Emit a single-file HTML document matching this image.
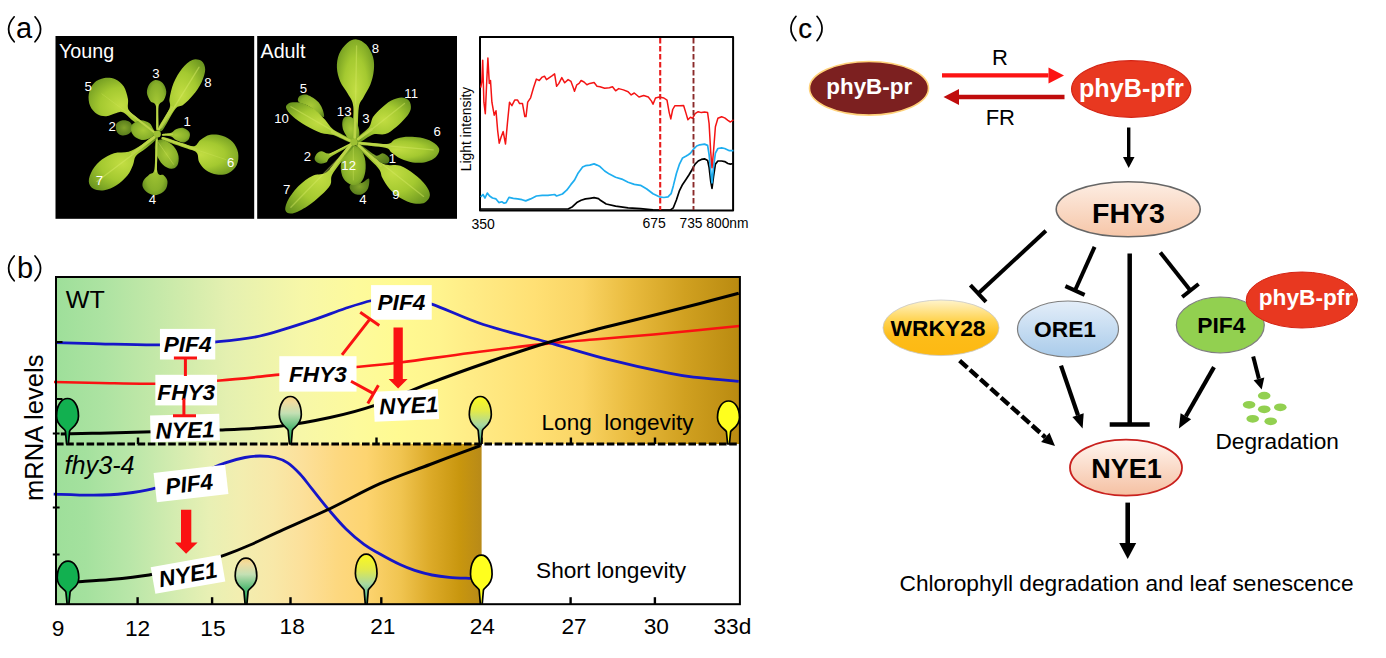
<!DOCTYPE html>
<html><head><meta charset="utf-8"><title>Figure</title>
<style>
html,body{margin:0;padding:0;background:#fff;}
body{width:1386px;height:658px;overflow:hidden;font-family:"Liberation Sans",sans-serif;}
svg{display:block;}
svg text{font-family:"Liberation Sans",sans-serif;}
</style></head><body>
<svg width="1386" height="658" viewBox="0 0 1386 658">
<rect width="1386" height="658" fill="#fff"/>
<g font-size="29" fill="#000">
<text x="16" y="38">a</text>
<text x="17" y="277.6">b</text>
<text x="798.3" y="37.9" font-size="27.5" stroke="#000" stroke-width="0.25">c</text>
</g>
<g fill="none" stroke="#000" stroke-width="1.7" stroke-linecap="round">
<path d="M14.2,16.8 Q3,29.3 14.2,41.8"/><path d="M35,16.8 Q46.2,29.3 35,41.8"/>
<path d="M14.2,256 Q3,268.4 14.2,280.8"/><path d="M35,256 Q46.2,268.4 35,280.8"/>
<path d="M796,16.3 Q785.8,28.5 796,40.7"/><path d="M817,16.3 Q827.2,28.5 817,40.7"/>
</g>
<defs>
<radialGradient id="lg" cx="50%" cy="50%" r="65%"><stop offset="0" stop-color="#c2dd42"/><stop offset="0.5" stop-color="#a4c930"/><stop offset="1" stop-color="#67921e"/></radialGradient>
<radialGradient id="lg2" cx="50%" cy="50%" r="65%"><stop offset="0" stop-color="#a8ca36"/><stop offset="0.65" stop-color="#88b02a"/><stop offset="1" stop-color="#5a821c"/></radialGradient>
<radialGradient id="lg3" cx="50%" cy="50%" r="65%"><stop offset="0" stop-color="#82a42a"/><stop offset="1" stop-color="#4e7318"/></radialGradient>
</defs>
<rect x="55.5" y="36" width="198.7" height="182.8" fill="#000"/>
<g><path d="M116.5,123.6 C117.5,121.8 120.3,120.5 122.6,120.2 C124.8,119.9 128.2,120.6 129.8,121.9 C131.5,123.2 132.7,125.9 132.5,127.9 C132.3,130.0 130.5,132.8 128.6,134.0 C126.8,135.2 123.4,135.8 121.3,135.2 C119.3,134.7 117.3,132.8 116.5,130.9 C115.7,128.9 115.5,125.4 116.5,123.6Z" fill="url(#lg3)"/>
<path d="M152.5,129.9 C150.4,127.5 142.3,122.1 138.4,118.7 C134.4,115.3 130.4,113.0 128.6,109.7 C126.9,106.4 128.7,102.6 127.9,98.8 C127.1,94.9 125.9,89.9 123.8,86.6 C121.7,83.4 118.5,80.7 115.3,79.3 C112.0,77.9 107.8,77.5 104.3,78.1 C100.8,78.7 96.7,80.3 94.1,83.0 C91.5,85.6 89.4,90.1 88.8,93.9 C88.1,97.8 88.8,102.7 90.2,106.1 C91.6,109.4 94.3,112.4 97.0,114.1 C99.7,115.8 103.0,116.5 106.3,116.3 C109.5,116.1 113.6,113.5 116.5,112.9 C119.3,112.2 120.1,110.8 123.3,112.4 C126.4,114.0 130.8,119.2 135.4,122.6 C140.1,126.0 148.2,131.6 151.0,132.8 C153.8,134.0 154.6,132.2 152.5,129.9Z" fill="url(#lg)"/><line x1="152.9" y1="131.6" x2="101.9" y2="93.9" stroke="#d6ea64" stroke-width="0.9" stroke-linecap="round" opacity="0.3"/>
<path d="M158.5,127.9 C158.9,124.4 157.6,111.2 158.5,106.6 C159.4,101.9 162.6,102.5 163.9,100.0 C165.2,97.5 166.5,94.3 166.3,91.5 C166.1,88.6 164.5,84.9 162.7,83.0 C160.9,81.1 157.6,79.8 155.4,80.0 C153.2,80.2 150.7,82.1 149.3,84.2 C147.9,86.3 146.7,89.9 146.9,92.7 C147.1,95.5 149.0,99.0 150.5,101.2 C152.0,103.4 154.9,101.6 155.9,106.1 C156.8,110.5 155.7,124.3 156.1,127.9 C156.6,131.6 158.1,131.5 158.5,127.9Z" fill="url(#lg2)"/>
<path d="M158.3,127.9 C159.4,124.4 167.6,113.4 169.5,108.5 C171.3,103.6 168.8,103.0 169.5,98.8 C170.2,94.5 171.5,88.0 173.6,83.0 C175.7,77.9 179.0,72.2 182.1,68.4 C185.2,64.5 189.1,61.1 192.3,59.9 C195.6,58.6 199.4,59.5 201.6,61.1 C203.7,62.7 205.2,66.1 205.2,69.6 C205.2,73.1 203.6,78.0 201.6,82.2 C199.6,86.5 196.1,91.4 193.1,95.1 C190.0,98.9 186.3,102.5 183.3,104.8 C180.4,107.2 178.8,104.8 175.3,109.0 C171.9,113.2 165.5,126.7 162.7,129.9 C159.8,133.1 157.2,131.5 158.3,127.9Z" fill="url(#lg)"/><line x1="161.5" y1="127.9" x2="199.1" y2="67.2" stroke="#d6ea64" stroke-width="1.3" stroke-linecap="round" opacity="0.5"/>
<path d="M162.7,134.0 C164.1,133.5 169.0,133.6 171.2,132.8 C173.4,132.0 174.0,130.0 176.0,129.2 C178.1,128.4 181.1,127.4 183.3,127.9 C185.6,128.5 188.5,130.5 189.4,132.3 C190.4,134.1 189.9,137.2 188.9,138.9 C187.9,140.6 185.5,142.3 183.3,142.5 C181.2,142.7 178.1,141.1 176.0,140.1 C174.0,139.1 173.4,137.2 171.2,136.5 C169.0,135.7 164.1,136.1 162.7,135.7 C161.3,135.3 161.3,134.5 162.7,134.0Z" fill="url(#lg2)"/>
<path d="M163.9,137.2 C166.9,137.6 177.1,141.5 182.1,143.0 C187.2,144.5 191.2,146.7 194.3,146.2 C197.3,145.7 197.7,142.0 200.4,140.1 C203.0,138.2 206.4,135.5 210.1,134.8 C213.7,134.0 218.5,134.5 222.2,135.7 C226.0,136.9 230.1,139.2 232.7,142.1 C235.3,144.9 237.4,148.9 238.1,152.8 C238.7,156.6 238.5,161.5 236.8,164.9 C235.2,168.3 231.7,171.6 228.3,173.2 C225.0,174.8 220.6,175.1 216.9,174.6 C213.2,174.1 208.9,172.4 206.0,170.3 C203.0,168.2 200.7,164.9 199.1,162.0 C197.6,159.1 198.7,155.0 196.7,152.8 C194.7,150.5 192.5,150.6 187.0,148.6 C181.5,146.6 167.7,142.5 163.9,140.6 C160.0,138.7 160.9,136.8 163.9,137.2Z" fill="url(#lg)"/><line x1="163.9" y1="138.9" x2="225.9" y2="159.6" stroke="#d6ea64" stroke-width="0.9" stroke-linecap="round" opacity="0.3"/>
<path d="M132.3,124.3 C133.9,122.5 138.0,120.4 140.8,120.2 C143.6,120.0 147.2,121.6 149.3,123.1 C151.4,124.6 152.3,127.5 153.4,129.2 C154.5,130.9 156.1,132.0 155.9,133.3 C155.6,134.6 153.8,136.1 151.7,137.2 C149.7,138.3 146.4,140.1 143.7,140.1 C141.0,140.1 137.5,138.7 135.4,137.2 C133.3,135.6 131.6,133.0 131.1,130.9 C130.5,128.7 130.7,126.1 132.3,124.3Z" fill="url(#lg2)"/>
<path d="M152.9,136.5 C150.4,137.4 144.8,142.9 140.8,145.5 C136.7,148.0 133.1,150.5 128.6,151.8 C124.2,153.1 118.5,151.9 114.0,153.2 C109.6,154.5 105.5,156.8 101.9,159.6 C98.3,162.3 94.8,166.1 92.6,169.8 C90.5,173.4 88.6,178.3 88.8,181.4 C88.9,184.6 90.8,187.3 93.4,188.7 C96.0,190.2 100.5,190.8 104.3,190.2 C108.2,189.6 112.6,187.8 116.5,185.3 C120.3,182.9 124.7,179.0 127.4,175.6 C130.2,172.2 131.6,168.2 133.0,164.9 C134.4,161.6 133.8,158.6 135.9,155.9 C138.0,153.2 142.3,151.3 145.7,148.6 C149.0,145.9 154.7,141.6 155.9,139.6 C157.1,137.6 155.5,135.5 152.9,136.5Z" fill="url(#lg)"/><line x1="154.2" y1="138.2" x2="97.0" y2="181.4" stroke="#d6ea64" stroke-width="1.3" stroke-linecap="round" opacity="0.5"/>
<path d="M155.6,140.1 C155.0,145.0 155.5,163.5 154.4,169.3 C153.4,175.0 151.1,172.8 149.3,174.6 C147.5,176.5 144.8,178.2 143.7,180.2 C142.6,182.3 142.0,184.6 142.7,186.8 C143.5,188.9 145.8,191.7 148.1,193.1 C150.4,194.5 153.8,195.6 156.6,195.1 C159.4,194.5 163.3,192.2 165.1,190.0 C166.9,187.7 167.7,183.9 167.5,181.4 C167.3,179.0 165.6,177.1 163.9,175.4 C162.2,173.7 158.3,177.1 157.3,171.2 C156.4,165.4 158.3,145.3 158.1,140.1 C157.8,134.9 156.2,135.2 155.6,140.1Z" fill="url(#lg2)"/>
<path d="M157.8,140.6 C159.3,139.6 161.3,139.2 163.9,140.1 C166.5,141.0 171.2,143.6 173.6,146.2 C176.0,148.8 177.9,152.7 178.5,155.9 C179.1,159.2 178.5,163.5 177.3,165.6 C176.0,167.8 173.6,169.0 171.2,168.8 C168.8,168.6 165.1,166.8 162.7,164.4 C160.2,162.1 157.9,157.7 156.6,154.7 C155.3,151.7 154.7,148.5 154.9,146.2 C155.1,143.8 156.3,141.6 157.8,140.6Z" fill="url(#lg2)"/><line x1="158.3" y1="142.5" x2="173.6" y2="164.4" stroke="#d6ea64" stroke-width="0.9" stroke-linecap="round" opacity="0.4"/></g>
<line x1="154.2" y1="132.3" x2="127.4" y2="111.4" stroke="#bcd548" stroke-width="2.0" stroke-linecap="round"/>
<line x1="157.3" y1="129.2" x2="157.3" y2="104.8" stroke="#bcd548" stroke-width="1.8" stroke-linecap="round"/>
<line x1="159.0" y1="129.2" x2="171.9" y2="107.3" stroke="#bcd548" stroke-width="2.3" stroke-linecap="round"/>
<line x1="162.7" y1="138.2" x2="196.2" y2="149.3" stroke="#bcd548" stroke-width="2.4" stroke-linecap="round"/>
<line x1="154.2" y1="137.2" x2="132.3" y2="153.5" stroke="#bcd548" stroke-width="2.8" stroke-linecap="round"/>
<line x1="156.8" y1="140.1" x2="155.9" y2="171.7" stroke="#bcd548" stroke-width="1.8" stroke-linecap="round"/>
<line x1="162.7" y1="134.8" x2="172.4" y2="134.3" stroke="#bcd548" stroke-width="1.4" stroke-linecap="round"/>
<circle cx="157.3" cy="134.0" r="3.6" fill="#9dc033"/>
<g fill="#fff" font-size="13.2" text-anchor="middle">
<text x="155.9" y="77.8">3</text>
<text x="208.0" y="87.1">8</text>
<text x="88.2" y="90.9">5</text>
<text x="187.2" y="126.0">1</text>
<text x="112.2" y="131.1">2</text>
<text x="230.6" y="167.2">6</text>
<text x="99.4" y="185.1">7</text>
<text x="152.4" y="203.9">4</text>
</g>
<text x="59" y="58" fill="#fff" font-size="19.7">Young</text>
<rect x="257.2" y="36" width="199.8" height="182.8" fill="#000"/>
<g><path d="M299.1,96.6 C300.4,95.3 303.0,94.0 306.0,94.6 C309.0,95.3 314.2,98.3 316.9,100.7 C319.7,103.0 321.3,106.1 322.4,108.9 C323.5,111.6 324.9,116.7 323.8,117.1 C322.6,117.4 318.3,113.0 315.6,111.0 C312.8,109.1 310.2,107.1 307.4,105.6 C304.5,104.1 300.0,103.5 298.6,102.0 C297.2,100.5 297.9,97.8 299.1,96.6Z" fill="url(#lg2)"/>
<path d="M352.5,138.4 C351.9,133.1 354.1,114.1 353.3,106.7 C352.5,99.2 350.0,98.0 347.8,93.8 C345.7,89.6 342.0,85.8 340.2,81.5 C338.4,77.2 337.1,72.4 336.9,67.8 C336.7,63.3 337.4,58.3 339.1,54.1 C340.8,50.0 344.1,45.7 347.0,43.2 C349.9,40.7 353.4,39.1 356.6,39.4 C359.8,39.6 363.4,41.7 366.2,44.6 C368.9,47.5 371.7,52.6 373.0,56.9 C374.3,61.2 374.3,65.9 373.8,70.6 C373.4,75.2 372.0,80.3 370.3,84.8 C368.5,89.3 365.3,93.6 363.4,97.4 C361.5,101.2 359.8,100.7 358.8,107.5 C357.7,114.3 358.2,133.3 357.1,138.4 C356.1,143.6 353.1,143.7 352.5,138.4Z" fill="url(#lg)"/><line x1="355.0" y1="136.2" x2="356.6" y2="45.9" stroke="#d6ea64" stroke-width="1.3" stroke-linecap="round" opacity="0.45"/>
<path d="M356.6,138.4 C358.1,135.9 366.2,131.0 368.9,127.5 C371.6,123.9 371.0,120.3 373.0,117.1 C375.1,113.9 378.3,111.0 381.2,108.3 C384.2,105.6 387.4,102.5 390.8,100.7 C394.2,98.8 398.7,97.4 401.7,97.4 C404.8,97.4 407.6,98.7 409.1,100.7 C410.6,102.6 411.3,106.0 410.8,108.9 C410.2,111.7 408.3,114.6 405.8,117.6 C403.4,120.6 399.7,124.2 396.3,126.9 C392.8,129.7 389.2,132.8 385.3,134.0 C381.4,135.3 377.2,133.2 373.0,134.6 C368.8,135.9 362.6,141.6 359.9,142.2 C357.1,142.9 355.1,140.9 356.6,138.4Z" fill="url(#lg)"/><line x1="358.0" y1="140.3" x2="404.5" y2="103.4" stroke="#d6ea64" stroke-width="1.3" stroke-linecap="round" opacity="0.45"/>
<path d="M358.0,141.7 C362.8,141.6 380.5,144.2 386.7,143.9 C392.8,143.5 391.7,140.7 394.9,139.5 C398.1,138.3 401.6,137.1 405.8,136.8 C410.0,136.4 415.7,136.8 420.1,137.6 C424.4,138.4 428.9,139.8 432.1,141.7 C435.3,143.6 438.6,146.2 439.2,148.8 C439.8,151.4 438.1,154.8 435.9,157.0 C433.7,159.2 430.0,161.0 426.1,161.9 C422.2,162.8 417.0,163.0 412.7,162.5 C408.4,161.9 403.9,160.3 400.4,158.6 C396.9,157.0 394.1,154.5 391.6,152.6 C389.1,150.8 390.9,149.1 385.3,147.7 C379.7,146.3 362.5,145.4 358.0,144.4 C353.4,143.4 353.2,141.8 358.0,141.7Z" fill="url(#lg)"/><line x1="359.3" y1="143.3" x2="433.2" y2="149.9" stroke="#d6ea64" stroke-width="1.3" stroke-linecap="round" opacity="0.45"/>
<path d="M359.3,143.9 C363.2,146.3 375.1,157.9 379.8,161.4 C384.6,164.9 384.6,164.2 388.1,164.9 C391.5,165.7 396.0,164.3 400.4,165.8 C404.7,167.3 409.8,170.8 414.0,174.0 C418.2,177.2 422.9,181.4 425.5,184.9 C428.2,188.4 430.0,192.1 429.9,195.0 C429.8,197.9 427.6,201.0 425.0,202.4 C422.3,203.8 418.1,204.2 414.0,203.5 C409.9,202.8 404.5,200.5 400.4,198.0 C396.3,195.6 392.4,192.1 389.4,188.7 C386.4,185.4 384.2,181.3 382.3,177.8 C380.4,174.3 382.2,172.9 377.9,167.7 C373.6,162.5 359.7,150.6 356.6,146.6 C353.5,142.6 355.5,141.4 359.3,143.9Z" fill="url(#lg)"/><line x1="358.8" y1="145.5" x2="423.6" y2="196.4" stroke="#d6ea64" stroke-width="1.3" stroke-linecap="round" opacity="0.45"/>
<path d="M362.1,145.8 C364.5,147.2 372.3,154.1 375.7,155.4 C379.2,156.6 380.4,152.8 382.6,153.2 C384.8,153.5 388.0,155.9 388.9,157.6 C389.8,159.2 389.3,162.1 388.1,163.0 C386.8,163.9 383.3,163.8 381.2,163.0 C379.2,162.3 379.1,161.3 375.7,158.6 C372.4,156.0 363.3,149.3 361.0,147.2 C358.7,145.0 359.6,144.4 362.1,145.8Z" fill="url(#lg3)"/>
<path d="M351.7,184.1 C353.7,183.2 359.2,183.6 362.1,182.7 C364.9,181.8 367.9,177.7 368.9,178.6 C369.9,179.5 369.2,185.6 368.1,188.2 C366.9,190.8 364.3,193.3 362.1,194.2 C359.8,195.1 356.5,194.7 354.4,193.7 C352.4,192.7 350.2,189.8 349.8,188.2 C349.3,186.6 349.6,185.0 351.7,184.1Z" fill="url(#lg3)"/>
<path d="M349.8,145.8 C352.3,144.7 356.8,145.7 359.3,147.7 C361.8,149.8 363.8,154.1 364.8,158.1 C365.8,162.1 366.0,167.7 365.3,171.8 C364.7,175.9 363.0,180.5 360.7,182.7 C358.4,184.9 354.5,185.6 351.7,184.9 C348.8,184.2 345.3,181.7 343.5,178.6 C341.6,175.5 340.6,170.4 340.7,166.3 C340.9,162.2 342.8,157.4 344.3,154.0 C345.8,150.6 347.2,146.8 349.8,145.8Z" fill="url(#lg2)"/><line x1="353.3" y1="147.2" x2="353.3" y2="180.0" stroke="#d6ea64" stroke-width="1.0" stroke-linecap="round" opacity="0.35"/>
<path d="M350.3,143.3 C347.1,146.2 338.9,158.1 334.7,163.0 C330.5,168.0 328.9,171.0 325.1,173.1 C321.4,175.3 316.6,173.8 312.3,175.9 C307.9,177.9 303.2,181.5 299.1,185.5 C295.1,189.4 290.5,195.5 288.2,199.7 C285.9,203.9 284.7,208.3 285.5,210.6 C286.2,212.9 288.9,214.1 292.6,213.4 C296.2,212.6 302.6,209.3 307.4,206.2 C312.1,203.2 317.2,198.9 321.0,195.3 C324.9,191.7 328.5,188.3 330.3,184.9 C332.2,181.5 330.1,179.0 332.0,175.1 C333.8,171.1 337.9,166.2 341.6,161.4 C345.2,156.6 352.4,149.1 353.9,146.1 C355.3,143.1 353.5,140.5 350.3,143.3Z" fill="url(#lg)"/><line x1="351.7" y1="145.0" x2="290.9" y2="207.3" stroke="#d6ea64" stroke-width="1.3" stroke-linecap="round" opacity="0.45"/>
<path d="M351.7,142.8 C348.1,144.2 335.7,151.8 330.6,153.2 C325.5,154.6 323.5,150.9 321.0,151.3 C318.5,151.6 316.6,153.9 315.6,155.4 C314.6,156.9 314.3,158.9 315.0,160.3 C315.7,161.7 317.8,163.3 319.7,163.6 C321.6,163.9 324.6,163.3 326.5,162.2 C328.4,161.1 326.6,159.7 330.9,156.7 C335.2,153.8 348.8,146.7 352.2,144.4 C355.7,142.1 355.3,141.3 351.7,142.8Z" fill="url(#lg2)"/>
<path d="M351.1,139.0 C348.3,136.8 337.7,132.6 333.3,129.4 C329.0,126.2 328.1,123.0 325.1,119.8 C322.2,116.6 319.2,113.0 315.6,110.2 C311.9,107.5 307.4,104.7 303.3,103.4 C299.1,102.1 293.8,101.9 290.9,102.6 C288.1,103.3 285.8,105.3 286.0,107.5 C286.2,109.7 289.0,112.9 292.3,116.0 C295.6,119.0 301.2,123.0 306.0,125.8 C310.8,128.6 316.5,131.4 321.0,132.9 C325.6,134.5 328.5,133.5 333.3,135.1 C338.2,136.7 347.1,141.9 350.0,142.5 C353.0,143.1 353.9,141.1 351.1,139.0Z" fill="url(#lg)"/><line x1="350.0" y1="140.6" x2="290.9" y2="106.7" stroke="#d6ea64" stroke-width="1.3" stroke-linecap="round" opacity="0.45"/>
<path d="M343.5,118.4 C344.7,116.7 347.6,115.8 349.8,116.5 C351.9,117.2 355.0,119.9 356.6,122.5 C358.2,125.1 359.1,129.1 359.3,132.1 C359.6,135.1 359.2,138.8 358.0,140.3 C356.7,141.8 353.7,142.1 351.7,141.1 C349.6,140.2 347.2,137.3 345.7,134.8 C344.1,132.4 342.7,129.4 342.4,126.6 C342.0,123.9 342.2,120.1 343.5,118.4Z" fill="url(#lg2)"/></g>
<line x1="354.7" y1="137.6" x2="356.0" y2="105.6" stroke="#bcd548" stroke-width="2.6" stroke-linecap="round"/>
<line x1="358.0" y1="139.0" x2="371.6" y2="129.4" stroke="#bcd548" stroke-width="2.6" stroke-linecap="round"/>
<line x1="359.3" y1="143.1" x2="389.4" y2="145.8" stroke="#bcd548" stroke-width="2.4" stroke-linecap="round"/>
<line x1="358.8" y1="145.5" x2="380.7" y2="165.8" stroke="#bcd548" stroke-width="2.6" stroke-linecap="round"/>
<line x1="351.1" y1="144.4" x2="331.4" y2="169.6" stroke="#bcd548" stroke-width="3.0" stroke-linecap="round"/>
<line x1="351.7" y1="143.3" x2="329.8" y2="154.3" stroke="#bcd548" stroke-width="1.5" stroke-linecap="round"/>
<line x1="350.0" y1="140.6" x2="332.0" y2="132.1" stroke="#bcd548" stroke-width="2.6" stroke-linecap="round"/>
<circle cx="353.9" cy="142.2" r="3.6" fill="#9dc033"/>
<g fill="#fff" font-size="13.2" text-anchor="middle">
<text x="375.5" y="53.2">8</text>
<text x="411.2" y="97.6">11</text>
<text x="437.1" y="135.6">6</text>
<text x="303.3" y="93.1">5</text>
<text x="281.6" y="122.5">10</text>
<text x="344.2" y="115.5">13</text>
<text x="365.9" y="122.8">3</text>
<text x="307.5" y="161.1">2</text>
<text x="392.4" y="163.0">1</text>
<text x="348.7" y="170.4">12</text>
<text x="286.7" y="194.0">7</text>
<text x="363.0" y="203.6">4</text>
<text x="395.9" y="199.1">9</text>
</g>
<text x="260.5" y="58" fill="#fff" font-size="19.7">Adult</text>

<g id="spec" fill="none" stroke-linejoin="round">
<rect x="480" y="37" width="253.1" height="173.4" fill="#fff" stroke="#000" stroke-width="2"/>
<path d="M480.7,209.0 L568.1,209.0 L572.5,206.7 L576.8,202.6 L581.1,200.3 L585.5,198.9 L589.8,198.3 L594.1,197.7 L598.5,198.6 L600.0,200.0 L606.2,204.0 L615.6,206.2 L628.1,207.8 L640.5,208.7 L653.0,209.9 L670.2,210.2 L673.3,207.8 L676.4,200.0 L679.5,190.6 L682.6,184.4 L685.8,179.7 L688.9,175.0 L692.0,169.7 L695.1,164.1 L698.2,161.0 L701.4,159.4 L704.5,158.8 L707.6,160.4 L709.1,167.2 L710.7,181.2 L712.0,188.4 L713.5,176.6 L715.4,164.1 L717.9,161.0 L721.6,161.0 L724.7,161.6 L727.9,163.5 L730.4,164.1 L733.5,163.5" stroke="#000" stroke-width="1.7"/>
<path d="M480.7,196.8 L483.0,194.5 L485.0,198.0 L487.3,193.1 L489.6,196.0 L492.5,198.0 L496.0,198.9 L498.9,202.6 L501.8,201.8 L504.1,203.2 L506.1,202.6 L509.0,197.4 L513.3,198.3 L517.6,198.9 L522.0,199.7 L525.7,200.9 L530.6,198.9 L536.4,196.0 L542.2,195.4 L547.9,195.4 L554.6,194.5 L556.6,196.0 L562.4,194.0 L566.7,190.2 L571.0,184.4 L574.5,180.1 L578.2,172.9 L582.6,167.1 L585.5,165.7 L589.8,165.1 L594.1,163.9 L597.0,165.1 L600.0,166.6 L604.7,171.0 L609.4,174.1 L615.6,177.2 L621.8,179.1 L628.1,182.2 L634.3,184.4 L640.5,185.3 L646.8,189.0 L653.0,193.7 L659.3,196.8 L663.9,197.5 L668.0,196.8 L671.1,193.7 L673.3,185.9 L676.4,173.5 L679.5,164.1 L682.6,157.9 L685.8,156.3 L688.3,154.7 L690.4,153.2 L693.6,149.1 L696.7,146.0 L699.8,144.8 L704.5,144.1 L707.6,145.4 L709.1,154.7 L710.7,170.3 L712.0,182.8 L713.5,167.2 L715.4,153.2 L717.9,148.5 L721.6,147.9 L724.7,148.5 L729.4,150.7 L733.5,150.7" stroke="#1eaef0" stroke-width="1.7"/>
<path d="M480.7,87.7 L481.8,82.0 L482.7,60.3 L483.9,102.2 L485.3,113.7 L486.7,82.0 L487.9,58.0 L489.3,83.4 L490.5,80.5 L491.9,102.2 L494.2,115.2 L496.0,110.8 L497.7,131.0 L499.2,143.2 L501.2,136.8 L503.2,131.6 L505.5,144.0 L507.5,122.4 L509.5,102.2 L511.9,105.6 L514.7,100.1 L517.6,100.1 L519.6,103.6 L522.5,103.6 L524.8,116.6 L526.0,116.6 L527.7,102.2 L530.6,97.8 L533.5,87.7 L536.4,79.1 L539.3,80.5 L542.2,77.1 L544.5,76.2 L546.5,79.6 L549.4,77.6 L552.3,75.6 L554.6,73.9 L556.6,86.3 L558.9,83.4 L561.8,77.6 L564.7,82.8 L568.1,79.6 L571.0,81.4 L573.3,87.7 L574.5,91.2 L576.8,84.8 L579.1,83.4 L581.1,80.5 L584.0,82.0 L586.9,84.8 L589.8,83.4 L594.1,82.5 L597.0,86.3 L600.0,86.8 L604.7,88.3 L609.4,87.7 L612.5,86.8 L615.6,90.8 L618.7,88.6 L623.4,89.9 L628.1,91.7 L631.2,94.9 L634.3,93.0 L639.0,97.0 L643.7,95.5 L648.3,97.0 L651.5,101.1 L653.0,104.2 L655.5,98.0 L659.3,97.0 L663.9,98.0 L667.0,100.2 L669.2,112.6 L670.8,118.9 L672.7,109.5 L674.8,105.8 L679.5,105.8 L683.6,105.5 L685.8,112.6 L687.9,119.8 L690.4,117.3 L692.6,118.3 L695.1,113.6 L698.2,111.7 L701.4,112.6 L704.5,112.0 L707.6,112.6 L709.1,123.6 L710.7,151.6 L712.0,167.8 L713.5,151.6 L715.4,126.7 L717.9,118.3 L721.6,116.7 L724.7,117.9 L727.9,120.4 L730.4,122.0 L733.5,119.8" stroke="#f41414" stroke-width="1.5"/>
<line x1="660.2" y1="38" x2="660.2" y2="210" stroke="#e81c1c" stroke-width="2.1" stroke-dasharray="5.5,2.5"/>
<line x1="693.5" y1="38" x2="693.5" y2="210" stroke="#8b2a2a" stroke-width="1.9" stroke-dasharray="5.5,2.5"/>
</g>
<g font-size="14" fill="#000">
<text x="471.5" y="228.5">350</text>
<text x="642.5" y="228">675</text>
<text x="679.5" y="228" font-size="13.8">735 800nm</text>
<text transform="translate(470.6,129) rotate(-90)" text-anchor="middle" font-size="13.8">Light intensity</text>
</g>

<defs>
<linearGradient id="gwt" gradientUnits="userSpaceOnUse" x1="56" y1="0" x2="739.9" y2="0"><stop offset="0" stop-color="#9edf9a"/><stop offset="0.07" stop-color="#ade3a2"/><stop offset="0.14" stop-color="#c2e8a8"/><stop offset="0.25" stop-color="#e4f0b0"/>
<stop offset="0.36" stop-color="#f7f7a8"/><stop offset="0.44" stop-color="#fdfa9c"/><stop offset="0.50" stop-color="#fffa92"/><stop offset="0.56" stop-color="#fff48e"/><stop offset="0.62" stop-color="#ffea84"/><stop offset="0.70" stop-color="#ffe074"/>
<stop offset="0.77" stop-color="#fad464"/><stop offset="0.84" stop-color="#e9bb3e"/><stop offset="0.92" stop-color="#d0a020"/><stop offset="1" stop-color="#b98a10"/></linearGradient>
<linearGradient id="gmu" gradientUnits="userSpaceOnUse" x1="56" y1="0" x2="481.6" y2="0"><stop offset="0" stop-color="#9edf9a"/><stop offset="0.07" stop-color="#a4e19e"/><stop offset="0.17" stop-color="#b8e6a8"/><stop offset="0.28" stop-color="#d4ecb0"/><stop offset="0.36" stop-color="#e8f0b4"/><stop offset="0.43" stop-color="#f2eeb0"/><stop offset="0.51" stop-color="#f8e8a8"/><stop offset="0.58" stop-color="#fce09a"/><stop offset="0.66" stop-color="#fdd880"/><stop offset="0.73" stop-color="#fdd470"/><stop offset="0.81" stop-color="#f0c450"/><stop offset="0.88" stop-color="#dcaa28"/><stop offset="0.95" stop-color="#c8960e"/><stop offset="1" stop-color="#b88a18"/></linearGradient>
<linearGradient id="lf2" x1="0" y1="0" x2="0" y2="1"><stop offset="0" stop-color="#f6d482"/><stop offset="0.12" stop-color="#f0dca0"/><stop offset="0.35" stop-color="#c4e0b4"/><stop offset="0.65" stop-color="#58ba76"/><stop offset="1" stop-color="#16a04e"/></linearGradient>
<linearGradient id="lf3" x1="0" y1="0" x2="0" y2="1"><stop offset="0" stop-color="#fcfa1e"/><stop offset="0.3" stop-color="#e4ea48"/><stop offset="0.6" stop-color="#a8d8a0"/><stop offset="0.8" stop-color="#6cc090"/><stop offset="1" stop-color="#2c9a60"/></linearGradient>
</defs>
<rect x="56" y="277" width="683.9" height="167" fill="url(#gwt)"/>
<rect x="56" y="444" width="425.6" height="160.20000000000005" fill="url(#gmu)"/>
<g fill="none" stroke-width="2.8">
<path d="M54.0,382.0 C61.7,382.2 82.7,382.7 100.0,383.0 C117.3,383.3 138.0,384.1 158.0,383.7 C178.0,383.3 199.7,382.0 220.0,380.5 C240.3,379.0 259.6,376.6 279.6,374.6 C299.6,372.6 319.9,370.5 340.0,368.5 C360.1,366.5 378.3,365.1 400.0,362.5 C421.7,359.9 445.5,356.1 470.0,353.0 C494.5,349.9 525.5,345.9 547.2,343.6 C568.9,341.3 582.3,340.5 600.0,339.0 C617.7,337.5 636.9,336.0 653.6,334.5 C670.3,333.0 685.7,331.4 700.0,330.0 C714.3,328.6 732.9,326.7 739.5,326.0" stroke="#fa1212" stroke-width="2.6"/>
<path d="M55.6,342.7 C63.0,342.9 82.4,343.4 100.0,343.8 C117.6,344.2 141.8,345.1 161.0,344.8 C180.2,344.5 198.5,343.5 215.0,342.0 C231.5,340.5 244.2,339.5 260.0,336.0 C275.8,332.5 295.8,325.6 310.0,321.0 C324.2,316.4 334.7,311.9 345.0,308.5 C355.3,305.1 362.8,302.5 372.0,300.5 C381.2,298.5 390.1,295.9 400.0,296.5 C409.9,297.1 417.8,299.4 431.7,304.1 C445.6,308.8 464.1,318.2 483.3,324.5 C502.6,330.8 526.4,336.3 547.2,342.1 C568.0,347.9 587.7,354.2 608.0,359.4 C628.3,364.6 653.6,370.1 668.8,373.1 C684.0,376.2 687.4,376.3 699.0,377.7 C710.6,379.1 732.1,380.7 738.7,381.3" stroke="#1616c8"/>
<path d="M60.8,433.9 C67.3,433.8 84.8,433.5 100.0,433.2 C115.2,432.9 132.0,432.3 152.0,431.8 C172.0,431.3 198.7,430.9 220.0,430.0 C241.3,429.1 261.3,428.4 279.6,426.3 C297.9,424.2 314.3,420.9 330.0,417.5 C345.7,414.1 357.6,411.2 374.0,405.6 C390.4,400.0 409.3,391.1 428.6,383.7 C447.9,376.3 470.2,368.3 490.0,361.5 C509.8,354.7 528.9,348.2 547.2,342.7 C565.5,337.2 582.3,333.1 600.0,328.5 C617.7,323.9 636.9,319.5 653.6,315.3 C670.3,311.1 685.8,307.2 700.0,303.5 C714.2,299.8 732.2,294.9 738.7,293.2" stroke="#000" stroke-width="3"/>
<path d="M53.7,494.1 C60.4,494.3 81.7,495.3 93.6,495.2 C105.5,495.1 115.2,494.6 125.0,493.5 C134.8,492.4 141.7,491.6 152.5,488.9 C163.3,486.1 177.9,481.3 190.0,477.0 C202.1,472.7 216.1,466.1 225.3,462.9 C234.5,459.6 239.2,458.6 245.0,457.5 C250.8,456.4 255.0,456.0 260.0,456.0 C265.0,456.0 270.4,456.4 275.0,457.5 C279.6,458.6 283.5,460.1 287.7,462.9 C291.9,465.6 295.9,469.7 300.0,474.0 C304.1,478.3 307.1,482.8 312.0,488.9 C316.9,495.0 323.6,503.7 329.3,510.4 C335.0,517.1 340.2,523.3 346.0,529.0 C351.8,534.7 358.3,540.2 364.0,544.4 C369.7,548.6 374.0,550.6 380.0,554.0 C386.0,557.4 394.2,561.8 400.0,564.5 C405.8,567.2 409.4,568.6 414.7,570.4 C420.0,572.1 426.2,573.9 432.0,575.0 C437.8,576.1 442.8,576.7 449.3,577.3 C455.8,577.9 467.2,578.2 470.8,578.4" stroke="#1616c8"/>
<path d="M78.0,581.8 C83.3,581.4 98.2,580.6 110.0,579.5 C121.8,578.4 135.7,577.1 149.0,574.9 C162.3,572.6 177.3,569.4 190.0,566.0 C202.7,562.6 215.3,558.3 225.3,554.8 C235.3,551.3 241.3,548.8 250.0,545.0 C258.7,541.2 264.1,538.3 277.3,532.3 C290.5,526.3 312.2,517.1 329.3,509.0 C346.4,500.9 363.2,491.1 380.0,483.7 C396.8,476.3 413.2,470.9 430.0,464.5 C446.8,458.1 472.1,448.8 480.5,445.6" stroke="#000" stroke-width="3"/>
</g>
<g stroke="#000" fill="none"><rect x="56" y="277" width="683.9" height="327.20000000000005" stroke-width="2"/>
<line x1="56" y1="444" x2="739.9" y2="444" stroke-width="3" stroke-dasharray="7.6,2.6"/>
<line x1="137.6" y1="604.2" x2="137.6" y2="597.2" stroke-width="2.4"/>
<line x1="212.1" y1="604.2" x2="212.1" y2="597.2" stroke-width="2.4"/>
<line x1="290.5" y1="604.2" x2="290.5" y2="597.2" stroke-width="2.4"/>
<line x1="381.3" y1="604.2" x2="381.3" y2="597.2" stroke-width="2.4"/>
<line x1="481.6" y1="604.2" x2="481.6" y2="597.2" stroke-width="2.4"/>
<line x1="570.6" y1="604.2" x2="570.6" y2="597.2" stroke-width="2.4"/>
<line x1="654.9" y1="604.2" x2="654.9" y2="597.2" stroke-width="2.4"/>
<line x1="138" y1="444" x2="138" y2="437.5" stroke-width="2.4"/>
<line x1="290.5" y1="444" x2="290.5" y2="437.5" stroke-width="2.4"/>
<line x1="376.5" y1="444" x2="376.5" y2="437.5" stroke-width="2.4"/>
<line x1="481.6" y1="444" x2="481.6" y2="437.5" stroke-width="2.4"/>
<line x1="570.9" y1="444" x2="570.9" y2="437.5" stroke-width="2.4"/>
<line x1="655" y1="444" x2="655" y2="437.5" stroke-width="2.4"/>
<line x1="56" y1="342" x2="62.5" y2="342" stroke-width="2"/>
<line x1="56" y1="399" x2="62.5" y2="399" stroke-width="2"/>
<line x1="52.8" y1="433.5" x2="59.6" y2="433.5" stroke-width="2"/>
<line x1="52.8" y1="507.5" x2="59.6" y2="507.5" stroke-width="2"/>
<line x1="52.8" y1="554.5" x2="59.6" y2="554.5" stroke-width="2"/>
</g>
<path d="M66.60,444.00 L65.40,431.07 C64.70,427.97 56.50,426.42 56.50,416.08 C56.50,405.22 61.45,398.50 67.50,398.50 C73.55,398.50 78.50,405.22 78.50,416.08 C78.50,426.42 70.30,427.97 69.60,431.07 L68.40,444.00 Z" fill="#12b050" stroke="#000" stroke-width="1.7" stroke-linejoin="round"/>
<path d="M289.40,444.00 L288.20,430.51 C287.50,427.27 279.30,425.65 279.30,414.85 C279.30,403.52 284.25,396.50 290.30,396.50 C296.35,396.50 301.30,403.52 301.30,414.85 C301.30,425.65 293.10,427.27 292.40,430.51 L291.20,444.00 Z" fill="url(#lf2)" stroke="#000" stroke-width="1.7" stroke-linejoin="round"/>
<path d="M479.40,444.00 L478.20,430.51 C477.50,427.27 469.30,425.65 469.30,414.85 C469.30,403.52 474.25,396.50 480.30,396.50 C486.35,396.50 491.30,403.52 491.30,414.85 C491.30,425.65 483.10,427.27 482.40,430.51 L481.20,444.00 Z" fill="url(#lf3)" stroke="#000" stroke-width="1.7" stroke-linejoin="round"/>
<path d="M727.60,444.00 L726.40,431.78 C725.70,428.85 717.50,427.39 717.50,417.61 C717.50,407.35 722.45,401.00 728.50,401.00 C734.55,401.00 739.50,407.35 739.50,417.61 C739.50,427.39 731.30,428.85 730.60,431.78 L729.40,444.00 Z" fill="#ffff1e" stroke="#000" stroke-width="1.7" stroke-linejoin="round"/>
<path d="M67.10,604.20 L65.90,591.98 C65.20,589.05 57.20,587.59 57.20,577.81 C57.20,567.55 62.06,561.20 68.00,561.20 C73.94,561.20 78.80,567.55 78.80,577.81 C78.80,587.59 70.80,589.05 70.10,591.98 L68.90,604.20 Z" fill="#12b050" stroke="#000" stroke-width="1.7" stroke-linejoin="round"/>
<path d="M245.10,604.20 L243.90,591.13 C243.20,588.00 235.20,586.43 235.20,575.97 C235.20,565.00 240.06,558.20 246.00,558.20 C251.94,558.20 256.80,565.00 256.80,575.97 C256.80,586.43 248.80,588.00 248.10,591.13 L246.90,604.20 Z" fill="url(#lf2)" stroke="#000" stroke-width="1.7" stroke-linejoin="round"/>
<path d="M365.30,604.20 L364.10,590.00 C363.40,586.59 355.40,584.88 355.40,573.52 C355.40,561.59 360.26,554.20 366.20,554.20 C372.14,554.20 377.00,561.59 377.00,573.52 C377.00,584.88 369.00,586.59 368.30,590.00 L367.10,604.20 Z" fill="url(#lf3)" stroke="#000" stroke-width="1.7" stroke-linejoin="round"/>
<path d="M480.40,604.20 L479.20,590.28 C478.50,586.94 470.50,585.27 470.50,574.13 C470.50,562.44 475.36,555.20 481.30,555.20 C487.24,555.20 492.10,562.44 492.10,574.13 C492.10,585.27 484.10,586.94 483.40,590.28 L482.20,604.20 Z" fill="#ffff1e" stroke="#000" stroke-width="1.7" stroke-linejoin="round"/>
<g transform="translate(187.6,344.2) rotate(0)"><rect x="-27.65" y="-15.3" width="55.3" height="30.6" fill="#fff"/><text x="0" y="8.0" text-anchor="middle" font-size="22.6" font-weight="bold" font-style="italic" fill="#000">PIF4</text></g>
<g transform="translate(186.2,390.1) rotate(0)"><rect x="-30.85" y="-15.3" width="61.7" height="30.6" fill="#fff"/><text x="0" y="9.4" text-anchor="middle" font-size="22.6" font-weight="bold" font-style="italic" fill="#000">FHY3</text></g>
<g transform="translate(185,428) rotate(-1.5)"><rect x="-34.6" y="-13.3" width="69.2" height="26.6" fill="#fff"/><text x="0" y="10" text-anchor="middle" font-size="22.6" font-weight="bold" font-style="italic" fill="#000">NYE1</text></g>
<g transform="translate(317.9,373.9) rotate(0)"><rect x="-38.6" y="-17.7" width="77.2" height="35.4" fill="#fff"/><text x="0" y="8.0" text-anchor="middle" font-size="22.6" font-weight="bold" font-style="italic" fill="#000">FHY3</text></g>
<g transform="translate(401.4,302.4) rotate(0)"><rect x="-30.35" y="-17.3" width="60.7" height="34.6" fill="#fff"/><text x="0" y="8.0" text-anchor="middle" font-size="22.6" font-weight="bold" font-style="italic" fill="#000">PIF4</text></g>
<g transform="translate(406.2,405.4) rotate(-2.5)"><rect x="-32.25" y="-15.0" width="64.5" height="30" fill="#fff"/><text x="2.5" y="8.0" text-anchor="middle" font-size="22.6" font-weight="bold" font-style="italic" fill="#000">NYE1</text></g>
<g transform="translate(191,483.5) rotate(-6.5)"><rect x="-36.0" y="-14.75" width="72" height="29.5" fill="#fff"/><text x="-2" y="8.0" text-anchor="middle" font-size="22.6" font-weight="bold" font-style="italic" fill="#000">PIF4</text></g>
<g transform="translate(188,574.3) rotate(-10)"><rect x="-35.5" y="-13.5" width="71" height="27" fill="#fff"/><text x="0" y="8.0" text-anchor="middle" font-size="22.6" font-weight="bold" font-style="italic" fill="#000">NYE1</text></g>
<g stroke="#fa1212" stroke-width="3" fill="none">
<path d="M173.9,358 H197 M185.4,358 V376"/>
<path d="M183.9,398.5 V415.7 M173,415.7 H196"/>
<path d="M342,354.9 L369.3,319.9 M360.2,312.3 L379.3,325.4"/>
<path d="M351,381.3 L372.3,392.9 M378.4,385.3 L367.8,403.5"/>
</g>
<path d="M393.5,327.5 H402.8 V379 H407.6 L398.1,388.5 L388.6,379 H393.5 Z" fill="#fa1212"/>
<path d="M181,509.7 H191.3 V542.6 H197.6 L186.1,553.8 L175,542.6 H181 Z" fill="#fa1212"/>
<g fill="#000">
<text x="65.8" y="308.3" font-size="24.2" textLength="39" lengthAdjust="spacingAndGlyphs">WT</text>
<text x="64.6" y="474.4" font-size="25.2" font-style="italic">fhy3-4</text>
<text x="541.5" y="430" font-size="22.6" xml:space="preserve">Long  longevity</text>
<text x="536" y="578.4" font-size="22.7">Short longevity</text>
<text transform="translate(42.8,427.8) rotate(-90)" text-anchor="middle" font-size="25.6">mRNA levels</text>
<g font-size="22.7" text-anchor="middle">
<text x="58" y="636.2">9</text>
<text x="137.6" y="636.2">12</text>
<text x="212.9" y="636.2">15</text>
<text x="292.2" y="634">18</text>
<text x="382.8" y="634">21</text>
<text x="482.3" y="634">24</text>
<text x="574.1" y="634">27</text>
<text x="656.3" y="634">30</text>
<text x="713.4" y="634" text-anchor="start">33d</text>
</g></g>
<defs>
<linearGradient id="gfhy" x1="0" y1="0" x2="0" y2="1"><stop offset="0" stop-color="#fdeee4"/><stop offset="1" stop-color="#f6c6a8"/></linearGradient>
<linearGradient id="gnye" x1="0" y1="0" x2="0" y2="1"><stop offset="0" stop-color="#fff6f0"/><stop offset="1" stop-color="#f5c0a2"/></linearGradient>
<linearGradient id="gwrky" x1="0" y1="0" x2="0" y2="1"><stop offset="0" stop-color="#fff4cc"/><stop offset="0.35" stop-color="#ffd556"/><stop offset="0.65" stop-color="#fdbc18"/><stop offset="1" stop-color="#fdb913"/></linearGradient>
<linearGradient id="gore" x1="0" y1="0" x2="0" y2="1"><stop offset="0" stop-color="#e4eef9"/><stop offset="1" stop-color="#a9cbea"/></linearGradient>
</defs>
<ellipse cx="869" cy="88.3" rx="59.5" ry="26.8" fill="#7c2020" stroke="#ffd27a" stroke-width="1.6"/>
<ellipse cx="1131.2" cy="89" rx="59.6" ry="28.3" fill="#e83820" stroke="#d42414" stroke-width="1.2"/>
<ellipse cx="1128.2" cy="209.2" rx="72" ry="27.5" fill="url(#gfhy)" stroke="#666" stroke-width="1.6"/>
<ellipse cx="941" cy="327.8" rx="58" ry="27.8" fill="url(#gwrky)" stroke="#c8c8c8" stroke-width="0.8"/>
<ellipse cx="1068" cy="329" rx="50.5" ry="28" fill="url(#gore)" stroke="#7f7f7f" stroke-width="1.2"/>
<ellipse cx="1220.3" cy="325" rx="44" ry="28" fill="#92d050" stroke="#7f7f7f" stroke-width="1.2"/>
<ellipse cx="1301.8" cy="300" rx="55.6" ry="28" fill="#e83820" stroke="#d42414" stroke-width="1"/>
<ellipse cx="1126" cy="467.7" rx="56" ry="28" fill="url(#gnye)" stroke="#c9211e" stroke-width="1.8"/>
<line x1="942.0" y1="75.4" x2="1048.5" y2="75.4" stroke="#fc1414" stroke-width="4.4"/><path d="M1064.0,75.4 L1048.5,83.4 L1048.5,67.4 Z" fill="#fc1414"/>
<line x1="1064.5" y1="97.0" x2="959.0" y2="97.0" stroke="#c00c0c" stroke-width="4.4"/><path d="M943.5,97.0 L959.0,89.0 L959.0,105.0 Z" fill="#c00c0c"/>
<line x1="1128.7" y1="127.5" x2="1128.7" y2="157.0" stroke="#000" stroke-width="3.4"/><path d="M1128.7,168.0 L1123.0,157.0 L1134.5,157.0 Z" fill="#000"/>
<line x1="1045.9" y1="230.8" x2="978.2" y2="293.5" stroke="#000" stroke-width="4"/><line x1="970.4" y1="285.1" x2="986.0" y2="301.9" stroke="#000" stroke-width="4"/>
<line x1="1094.6" y1="246.9" x2="1075.0" y2="290.5" stroke="#000" stroke-width="4"/><line x1="1065.4" y1="286.2" x2="1084.6" y2="294.8" stroke="#000" stroke-width="4"/>
<line x1="1129.7" y1="253.4" x2="1129.7" y2="424.4" stroke="#000" stroke-width="4.5"/><line x1="1109.7" y1="424.4" x2="1149.7" y2="424.4" stroke="#000" stroke-width="4.5"/>
<line x1="1160.3" y1="252.4" x2="1190.4" y2="290.5" stroke="#000" stroke-width="4"/><line x1="1182.2" y1="297.0" x2="1198.6" y2="284.0" stroke="#000" stroke-width="4"/>
<line x1="959.6" y1="360.6" x2="1045.3" y2="437.3" stroke="#000" stroke-width="4.4" stroke-dasharray="10.5,3.4"/><path d="M1055.0,446.0 L1041.1,442.0 L1049.5,432.7 Z" fill="#000"/>
<line x1="1061.0" y1="365.6" x2="1078.0" y2="415.2" stroke="#000" stroke-width="4.2"/><path d="M1082.6,428.4 L1072.4,417.1 L1083.7,413.2 Z" fill="#000"/>
<line x1="1214.0" y1="367.1" x2="1185.9" y2="416.3" stroke="#000" stroke-width="4.2"/><path d="M1178.9,428.4 L1180.6,413.3 L1191.1,419.2 Z" fill="#000"/>
<line x1="1253.2" y1="356.6" x2="1258.9" y2="378.8" stroke="#000" stroke-width="4"/><path d="M1261.7,389.5 L1253.6,380.2 L1264.3,377.5 Z" fill="#000"/>
<line x1="1127.7" y1="502.6" x2="1127.7" y2="543.0" stroke="#000" stroke-width="4.6"/><path d="M1127.7,559.0 L1119.2,543.0 L1136.2,543.0 Z" fill="#000"/>
<ellipse cx="1264.2" cy="395.7" rx="6.3" ry="3.9" fill="#92d050"/>
<ellipse cx="1249.1" cy="404.8" rx="6.3" ry="3.9" fill="#92d050"/>
<ellipse cx="1264.2" cy="409.3" rx="6.3" ry="3.9" fill="#92d050"/>
<ellipse cx="1280.3" cy="407.3" rx="6.3" ry="3.9" fill="#92d050"/>
<ellipse cx="1252.7" cy="418.8" rx="6.3" ry="3.9" fill="#92d050"/>
<ellipse cx="1270.7" cy="421.3" rx="6.3" ry="3.9" fill="#92d050"/>
<g font-weight="bold" text-anchor="middle">
<text x="869.2" y="93.5" font-size="22.4" fill="#fff">phyB-pr</text>
<text x="1131.4" y="96.8" font-size="25.2" fill="#fff">phyB-pfr</text>
<text x="1306" y="304.5" font-size="22.7" fill="#fff">phyB-pfr</text>
<text x="1128.5" y="222.5" font-size="28.5" fill="#000">FHY3</text>
<text x="938" y="336" font-size="22.8" fill="#000">WRKY28</text>
<text x="1065" y="337" font-size="22.8" fill="#000">ORE1</text>
<text x="1221.4" y="333.4" font-size="22.9" fill="#000">PIF4</text>
<text x="1126.5" y="477.5" font-size="27" fill="#000">NYE1</text>
</g>
<g font-size="22" fill="#000">
<text x="1000" y="65.3" text-anchor="middle">R</text>
<text x="1000.3" y="125.3" text-anchor="middle">FR</text>
<text x="1215.5" y="448.7" font-size="22.65">Degradation</text>
<text x="899.5" y="590.6" font-size="22.7">Chlorophyll degradation and leaf senescence</text>
</g>
</svg>
</body></html>
